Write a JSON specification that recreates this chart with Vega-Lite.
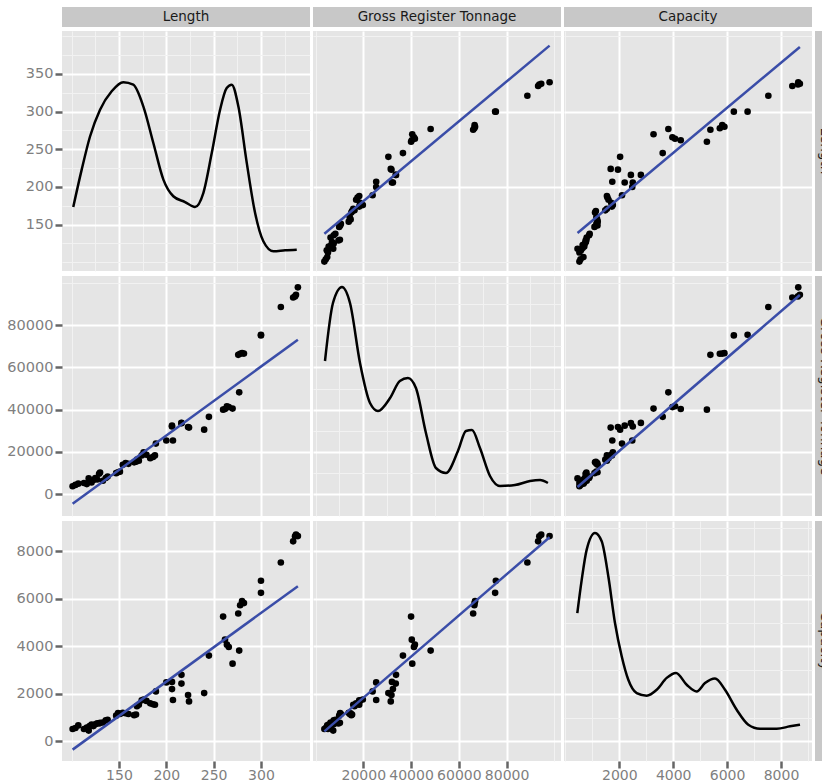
{
  "$schema": "https://vega.github.io/schema/vega-lite/v6.json",
  "background": "white",
  "padding": {"left": 6, "top": 7, "right": 0, "bottom": 0},
  "columns": 1,
  "spacing": 1,
  "bounds": "full",
  "align": {"row": "none", "column": "each"},
  "config": {
    "view": {"fill": "#E5E5E5", "stroke": null},
    "axis": {"domain": false, "grid": true, "labelColor": "#7F7F7F", "labelFont": "DejaVu Sans", "labelFontSize": 14.5, "tickColor": "#666666", "tickSize": 7, "tickWidth": 2.5, "labelPadding": 2, "labelOverlap": false, "labelFlush": false, "labelBound": false},
    "axisBottom": {"labelBaseline": "alphabetic", "labelPadding": 11, "labelFontSize": 14},
    "text": {"font": "DejaVu Sans", "fontSize": 13.5, "color": "#1A1A1A"}
  },
  "datasets": {
    "ships": [
      {"L":101,"G":3700,"C":520},{"L":104,"G":4300,"C":560},{"L":107,"G":4900,"C":670},{"L":113,"G":5200,"C":520},{"L":116,"G":4700,"C":580},{"L":118,"G":7400,"C":450},{"L":119,"G":6000,"C":640},{"L":121,"G":5500,"C":700},{"L":123,"G":6600,"C":640},{"L":125,"G":7600,"C":720},{"L":127,"G":6900,"C":760},{"L":129,"G":9600,"C":750},{"L":130,"G":10200,"C":780},{"L":133,"G":6300,"C":790},{"L":136,"G":7600,"C":880},{"L":138,"G":8300,"C":900},{"L":147,"G":9900,"C":1080},{"L":149,"G":10300,"C":1190},{"L":151,"G":10600,"C":1150},{"L":154,"G":13900,"C":1200},{"L":157,"G":14700,"C":1180},{"L":160,"G":14300,"C":1150},{"L":166,"G":15000,"C":1100},{"L":168,"G":15300,"C":1130},{"L":169,"G":16300,"C":1480},{"L":171,"G":15800,"C":1540},{"L":174,"G":18300,"C":1725},{"L":176,"G":19800,"C":1760},{"L":179,"G":18600,"C":1700},{"L":183,"G":17000,"C":1600},{"L":186,"G":17600,"C":1560},{"L":188,"G":18300,"C":1540},{"L":189,"G":23900,"C":2100},{"L":200,"G":25400,"C":2480},{"L":206,"G":32400,"C":2200},{"L":206,"G":32000,"C":2500},{"L":207,"G":25400,"C":1740},{"L":216,"G":33700,"C":2800},{"L":216,"G":33600,"C":2430},{"L":223,"G":31800,"C":1950},{"L":224,"G":31500,"C":1680},{"L":240,"G":30500,"C":2030},{"L":245,"G":36600,"C":3610},{"L":260,"G":40000,"C":5250},{"L":262,"G":40300,"C":4280},{"L":264,"G":41600,"C":4070},{"L":266,"G":41200,"C":3970},{"L":270,"G":40500,"C":3270},{"L":277,"G":48200,"C":3820},{"L":276,"G":66000,"C":5380},{"L":278,"G":66500,"C":5730},{"L":280,"G":66800,"C":5900},{"L":282,"G":66600,"C":5820},{"L":300,"G":75500,"C":6760},{"L":300,"G":75200,"C":6250},{"L":321,"G":88700,"C":7530},{"L":334,"G":93200,"C":8420},{"L":336,"G":93700,"C":8630},{"L":337,"G":94500,"C":8700},{"L":339,"G":98000,"C":8640}
    ],
    "fits": [
      {"p":"GL","x":3700,"y":138},{"p":"GL","x":98000,"y":387.6},
      {"p":"CL","x":450,"y":139},{"p":"CL","x":8700,"y":385.8},
      {"p":"LG","x":101,"y":-4600},{"p":"LG","x":339,"y":73170},
      {"p":"CG","x":450,"y":3320},{"p":"CG","x":8700,"y":94370},
      {"p":"LC","x":101,"y":-350},{"p":"LC","x":339,"y":6530},
      {"p":"GC","x":3700,"y":420},{"p":"GC","x":98000,"y":8590}
    ],
    "dens": [
      {"v":"L","x":101.7,"y":173.5},{"v":"L","x":110.6,"y":223},{"v":"L","x":119.4,"y":267},{"v":"L","x":130,"y":302.6},{"v":"L","x":142.3,"y":327},{"v":"L","x":154.6,"y":339},{"v":"L","x":165.1,"y":335.8},{"v":"L","x":175.7,"y":307},{"v":"L","x":186.3,"y":258.4},{"v":"L","x":196.9,"y":209.8},{"v":"L","x":207.4,"y":187.7},{"v":"L","x":219.8,"y":180},{"v":"L","x":230.3,"y":173.5},{"v":"L","x":239.1,"y":192},{"v":"L","x":248,"y":245},{"v":"L","x":256.8,"y":302.6},{"v":"L","x":263.8,"y":331.4},{"v":"L","x":269.1,"y":335.8},{"v":"L","x":276.1,"y":307},{"v":"L","x":285,"y":232},{"v":"L","x":293.8,"y":165.5},{"v":"L","x":302.5,"y":128},{"v":"L","x":313.1,"y":114.7},{"v":"L","x":325.5,"y":116},{"v":"L","x":337.8,"y":116.8},
      {"v":"G","x":3960,"y":63070},{"v":"G","x":7300,"y":90570},{"v":"G","x":11080,"y":98160},{"v":"G","x":14430,"y":90570},{"v":"G","x":18620,"y":62120},{"v":"G","x":22810,"y":43150},{"v":"G","x":26160,"y":39360},{"v":"G","x":31200,"y":45520},{"v":"G","x":35300,"y":53590},{"v":"G","x":38690,"y":55000},{"v":"G","x":42040,"y":50260},{"v":"G","x":46230,"y":28930},{"v":"G","x":50420,"y":12330},{"v":"G","x":54600,"y":9960},{"v":"G","x":59630,"y":20390},{"v":"G","x":62980,"y":29870},{"v":"G","x":65500,"y":30350},{"v":"G","x":68850,"y":21810},{"v":"G","x":73040,"y":8540},{"v":"G","x":77230,"y":3790},{"v":"G","x":83510,"y":4270},{"v":"G","x":89800,"y":6160},{"v":"G","x":94000,"y":6640},{"v":"G","x":97300,"y":5200},
      {"v":"C","x":442,"y":5400},{"v":"C","x":605,"y":6800},{"v":"C","x":790,"y":8070},{"v":"C","x":1098,"y":8770},{"v":"C","x":1347,"y":8420},{"v":"C","x":1592,"y":6950},{"v":"C","x":1840,"y":4980},{"v":"C","x":2089,"y":3580},{"v":"C","x":2334,"y":2590},{"v":"C","x":2646,"y":2030},{"v":"C","x":3017,"y":1920},{"v":"C","x":3388,"y":2170},{"v":"C","x":3759,"y":2670},{"v":"C","x":4104,"y":2880},{"v":"C","x":4501,"y":2380},{"v":"C","x":4872,"y":2100},{"v":"C","x":5180,"y":2450},{"v":"C","x":5551,"y":2640},{"v":"C","x":5922,"y":2170},{"v":"C","x":6356,"y":1330},{"v":"C","x":6787,"y":700},{"v":"C","x":7221,"y":530},{"v":"C","x":7840,"y":530},{"v":"C","x":8334,"y":630},{"v":"C","x":8705,"y":700}
    ],
    "labels": [{"t":"Length"},{"t":"Gross Register Tonnage"},{"t":"Capacity"}]
  },
  "concat": [
    {"hconcat": [
      {"width":248,"height":20,"view":{"fill":"#C8C8C8","stroke":null},"data":{"name":"labels"},"transform":[{"filter":"datum.t === 'Length'"}],"mark":{"type":"text"},"encoding":{"text":{"field":"t"}}},
      {"width":248,"height":20,"view":{"fill":"#C8C8C8","stroke":null},"data":{"name":"labels"},"transform":[{"filter":"datum.t === 'Gross Register Tonnage'"}],"mark":{"type":"text"},"encoding":{"text":{"field":"t"}}},
      {"width":248,"height":20,"view":{"fill":"#C8C8C8","stroke":null},"data":{"name":"labels"},"transform":[{"filter":"datum.t === 'Capacity'"}],"mark":{"type":"text"},"encoding":{"text":{"field":"t"}}}
    ], "spacing": 3, "bounds": "flush"},
    {"columns": 4, "spacing": {"row": 5, "column": 3}, "bounds": "flush", "align": "each",
     "concat": [
    {"width":248,"height":240,
     "data":{"name":"dens"},"transform":[{"filter":"datum.v === 'L'"}],
     "mark":{"type":"line","color":"black","strokeWidth":2.5,"interpolate":"monotone"},
     "encoding":{
       "x":{"field":"x","type":"quantitative","scale":{"domain":[89.8,351.8],"nice":false,"zero":false},"axis":{"title":null,"labels":false,"ticks":false,"values":[100,125,150,175,200,225,250,275,300,325],"gridColor":{"condition":{"test":"indexof([150,200,250,300], datum.value) >= 0","value":"#FFFFFF"},"value":"#F2F2F2"},"gridWidth":{"condition":{"test":"indexof([150,200,250,300], datum.value) >= 0","value":2},"value":1}}},
       "y":{"field":"y","type":"quantitative","scale":{"domain":[88.5,407],"nice":false,"zero":false},"axis":{"title":null,"orient":"left","format":"d","values":[100,125,150,175,200,225,250,275,300,325,350,375,400],"labelExpr":"indexof([150,200,250,300,350], datum.value) >= 0 ? datum.label : ''","tickOpacity":{"condition":{"test":"indexof([150,200,250,300,350], datum.value) >= 0","value":1},"value":0},"gridColor":{"condition":{"test":"indexof([150,200,250,300,350], datum.value) >= 0","value":"#FFFFFF"},"value":"#F2F2F2"},"gridWidth":{"condition":{"test":"indexof([150,200,250,300,350], datum.value) >= 0","value":2},"value":1}}}
     }},

    {"width":248,"height":240,"layer":[
      {"data":{"name":"ships"},"mark":{"type":"circle","size":44,"color":"black","opacity":1},
       "encoding":{
         "x":{"field":"G","type":"quantitative","scale":{"domain":[-1060,102780],"nice":false,"zero":false},"axis":{"title":null,"labels":false,"ticks":false,"values":[0,10000,20000,30000,40000,50000,60000,70000,80000,90000,100000],"gridColor":{"condition":{"test":"indexof([20000,40000,60000,80000], datum.value) >= 0","value":"#FFFFFF"},"value":"#F2F2F2"},"gridWidth":{"condition":{"test":"indexof([20000,40000,60000,80000], datum.value) >= 0","value":2},"value":1}}},
         "y":{"field":"L","type":"quantitative","scale":{"domain":[88.5,407],"nice":false,"zero":false},"axis":{"title":null,"labels":false,"ticks":false,"values":[100,125,150,175,200,225,250,275,300,325,350,375,400],"gridColor":{"condition":{"test":"indexof([150,200,250,300,350], datum.value) >= 0","value":"#FFFFFF"},"value":"#F2F2F2"},"gridWidth":{"condition":{"test":"indexof([150,200,250,300,350], datum.value) >= 0","value":2},"value":1}}}
       }},
      {"data":{"name":"fits"},"transform":[{"filter":"datum.p === 'GL'"}],"mark":{"type":"line","color":"#3A4DA8","strokeWidth":2.5},
       "encoding":{"x":{"field":"x","type":"quantitative"},"y":{"field":"y","type":"quantitative"}}}
    ]},

    {"width":248,"height":240,"layer":[
      {"data":{"name":"ships"},"mark":{"type":"circle","size":44,"color":"black","opacity":1},
       "encoding":{
         "x":{"field":"C","type":"quantitative","scale":{"domain":[-52,9150],"nice":false,"zero":false},"axis":{"title":null,"labels":false,"ticks":false,"values":[0,1000,2000,3000,4000,5000,6000,7000,8000,9000],"gridColor":{"condition":{"test":"indexof([2000,4000,6000,8000], datum.value) >= 0","value":"#FFFFFF"},"value":"#F2F2F2"},"gridWidth":{"condition":{"test":"indexof([2000,4000,6000,8000], datum.value) >= 0","value":2},"value":1}}},
         "y":{"field":"L","type":"quantitative","scale":{"domain":[88.5,407],"nice":false,"zero":false},"axis":{"title":null,"labels":false,"ticks":false,"values":[100,125,150,175,200,225,250,275,300,325,350,375,400],"gridColor":{"condition":{"test":"indexof([150,200,250,300,350], datum.value) >= 0","value":"#FFFFFF"},"value":"#F2F2F2"},"gridWidth":{"condition":{"test":"indexof([150,200,250,300,350], datum.value) >= 0","value":2},"value":1}}}
       }},
      {"data":{"name":"fits"},"transform":[{"filter":"datum.p === 'CL'"}],"mark":{"type":"line","color":"#3A4DA8","strokeWidth":2.5},
       "encoding":{"x":{"field":"x","type":"quantitative"},"y":{"field":"y","type":"quantitative"}}}
    ]},

    {"width":20,"height":240,"view":{"fill":"#C8C8C8","stroke":null},"data":{"name":"labels"},"transform":[{"filter":"datum.t === 'Length'"}],"mark":{"type":"text","angle":90},"encoding":{"text":{"field":"t"}}},

    {"width":248,"height":240,"layer":[
      {"data":{"name":"ships"},"mark":{"type":"circle","size":44,"color":"black","opacity":1},
       "encoding":{
         "x":{"field":"L","type":"quantitative","scale":{"domain":[89.8,351.8],"nice":false,"zero":false},"axis":{"title":null,"labels":false,"ticks":false,"values":[100,125,150,175,200,225,250,275,300,325],"gridColor":{"condition":{"test":"indexof([150,200,250,300], datum.value) >= 0","value":"#FFFFFF"},"value":"#F2F2F2"},"gridWidth":{"condition":{"test":"indexof([150,200,250,300], datum.value) >= 0","value":2},"value":1}}},
         "y":{"field":"G","type":"quantitative","scale":{"domain":[-10430,103380],"nice":false,"zero":false},"axis":{"title":null,"orient":"left","format":"d","values":[0,10000,20000,30000,40000,50000,60000,70000,80000,90000,100000],"labelExpr":"datum.value % 20000 === 0 && datum.value <= 80000 ? datum.label : ''","tickOpacity":{"condition":{"test":"datum.value % 20000 === 0 && datum.value <= 80000","value":1},"value":0},"gridColor":{"condition":{"test":"datum.value % 20000 === 0 && datum.value <= 80000","value":"#FFFFFF"},"value":"#F2F2F2"},"gridWidth":{"condition":{"test":"datum.value % 20000 === 0 && datum.value <= 80000","value":2},"value":1}}}
       }},
      {"data":{"name":"fits"},"transform":[{"filter":"datum.p === 'LG'"}],"mark":{"type":"line","color":"#3A4DA8","strokeWidth":2.5},
       "encoding":{"x":{"field":"x","type":"quantitative"},"y":{"field":"y","type":"quantitative"}}}
    ]},

    {"width":248,"height":240,
     "data":{"name":"dens"},"transform":[{"filter":"datum.v === 'G'"}],
     "mark":{"type":"line","color":"black","strokeWidth":2.5,"interpolate":"monotone"},
     "encoding":{
       "x":{"field":"x","type":"quantitative","scale":{"domain":[-1060,102780],"nice":false,"zero":false},"axis":{"title":null,"labels":false,"ticks":false,"values":[0,10000,20000,30000,40000,50000,60000,70000,80000,90000,100000],"gridColor":{"condition":{"test":"indexof([20000,40000,60000,80000], datum.value) >= 0","value":"#FFFFFF"},"value":"#F2F2F2"},"gridWidth":{"condition":{"test":"indexof([20000,40000,60000,80000], datum.value) >= 0","value":2},"value":1}}},
       "y":{"field":"y","type":"quantitative","scale":{"domain":[-10430,103380],"nice":false,"zero":false},"axis":{"title":null,"labels":false,"ticks":false,"values":[0,10000,20000,30000,40000,50000,60000,70000,80000,90000,100000],"gridColor":{"condition":{"test":"datum.value % 20000 === 0 && datum.value <= 80000","value":"#FFFFFF"},"value":"#F2F2F2"},"gridWidth":{"condition":{"test":"datum.value % 20000 === 0 && datum.value <= 80000","value":2},"value":1}}}
     }},

    {"width":248,"height":240,"layer":[
      {"data":{"name":"ships"},"mark":{"type":"circle","size":44,"color":"black","opacity":1},
       "encoding":{
         "x":{"field":"C","type":"quantitative","scale":{"domain":[-52,9150],"nice":false,"zero":false},"axis":{"title":null,"labels":false,"ticks":false,"values":[0,1000,2000,3000,4000,5000,6000,7000,8000,9000],"gridColor":{"condition":{"test":"indexof([2000,4000,6000,8000], datum.value) >= 0","value":"#FFFFFF"},"value":"#F2F2F2"},"gridWidth":{"condition":{"test":"indexof([2000,4000,6000,8000], datum.value) >= 0","value":2},"value":1}}},
         "y":{"field":"G","type":"quantitative","scale":{"domain":[-10430,103380],"nice":false,"zero":false},"axis":{"title":null,"labels":false,"ticks":false,"values":[0,10000,20000,30000,40000,50000,60000,70000,80000,90000,100000],"gridColor":{"condition":{"test":"datum.value % 20000 === 0 && datum.value <= 80000","value":"#FFFFFF"},"value":"#F2F2F2"},"gridWidth":{"condition":{"test":"datum.value % 20000 === 0 && datum.value <= 80000","value":2},"value":1}}}
       }},
      {"data":{"name":"fits"},"transform":[{"filter":"datum.p === 'CG'"}],"mark":{"type":"line","color":"#3A4DA8","strokeWidth":2.5},
       "encoding":{"x":{"field":"x","type":"quantitative"},"y":{"field":"y","type":"quantitative"}}}
    ]},

    {"width":20,"height":240,"view":{"fill":"#C8C8C8","stroke":null},"data":{"name":"labels"},"transform":[{"filter":"datum.t === 'Gross Register Tonnage'"}],"mark":{"type":"text","angle":90},"encoding":{"text":{"field":"t"}}},

    {"width":248,"height":240,"layer":[
      {"data":{"name":"ships"},"mark":{"type":"circle","size":44,"color":"black","opacity":1},
       "encoding":{
         "x":{"field":"L","type":"quantitative","scale":{"domain":[89.8,351.8],"nice":false,"zero":false},"axis":{"title":null,"format":"d","values":[100,125,150,175,200,225,250,275,300,325],"labelExpr":"indexof([150,200,250,300], datum.value) >= 0 ? datum.label : ''","tickOpacity":{"condition":{"test":"indexof([150,200,250,300], datum.value) >= 0","value":1},"value":0},"gridColor":{"condition":{"test":"indexof([150,200,250,300], datum.value) >= 0","value":"#FFFFFF"},"value":"#F2F2F2"},"gridWidth":{"condition":{"test":"indexof([150,200,250,300], datum.value) >= 0","value":2},"value":1}}},
         "y":{"field":"C","type":"quantitative","scale":{"domain":[-829,9276],"nice":false,"zero":false},"axis":{"title":null,"orient":"left","format":"d","values":[0,1000,2000,3000,4000,5000,6000,7000,8000,9000],"labelExpr":"indexof([0,2000,4000,6000,8000], datum.value) >= 0 ? datum.label : ''","tickOpacity":{"condition":{"test":"indexof([0,2000,4000,6000,8000], datum.value) >= 0","value":1},"value":0},"gridColor":{"condition":{"test":"indexof([0,2000,4000,6000,8000], datum.value) >= 0","value":"#FFFFFF"},"value":"#F2F2F2"},"gridWidth":{"condition":{"test":"indexof([0,2000,4000,6000,8000], datum.value) >= 0","value":2},"value":1}}}
       }},
      {"data":{"name":"fits"},"transform":[{"filter":"datum.p === 'LC'"}],"mark":{"type":"line","color":"#3A4DA8","strokeWidth":2.5},
       "encoding":{"x":{"field":"x","type":"quantitative"},"y":{"field":"y","type":"quantitative"}}}
    ]},

    {"width":248,"height":240,"layer":[
      {"data":{"name":"ships"},"mark":{"type":"circle","size":44,"color":"black","opacity":1},
       "encoding":{
         "x":{"field":"G","type":"quantitative","scale":{"domain":[-1060,102780],"nice":false,"zero":false},"axis":{"title":null,"format":"d","values":[0,10000,20000,30000,40000,50000,60000,70000,80000,90000,100000],"labelExpr":"indexof([20000,40000,60000,80000], datum.value) >= 0 ? datum.label : ''","tickOpacity":{"condition":{"test":"indexof([20000,40000,60000,80000], datum.value) >= 0","value":1},"value":0},"gridColor":{"condition":{"test":"indexof([20000,40000,60000,80000], datum.value) >= 0","value":"#FFFFFF"},"value":"#F2F2F2"},"gridWidth":{"condition":{"test":"indexof([20000,40000,60000,80000], datum.value) >= 0","value":2},"value":1}}},
         "y":{"field":"C","type":"quantitative","scale":{"domain":[-829,9276],"nice":false,"zero":false},"axis":{"title":null,"labels":false,"ticks":false,"values":[0,1000,2000,3000,4000,5000,6000,7000,8000,9000],"gridColor":{"condition":{"test":"indexof([0,2000,4000,6000,8000], datum.value) >= 0","value":"#FFFFFF"},"value":"#F2F2F2"},"gridWidth":{"condition":{"test":"indexof([0,2000,4000,6000,8000], datum.value) >= 0","value":2},"value":1}}}
       }},
      {"data":{"name":"fits"},"transform":[{"filter":"datum.p === 'GC'"}],"mark":{"type":"line","color":"#3A4DA8","strokeWidth":2.5},
       "encoding":{"x":{"field":"x","type":"quantitative"},"y":{"field":"y","type":"quantitative"}}}
    ]},

    {"width":248,"height":240,
     "data":{"name":"dens"},"transform":[{"filter":"datum.v === 'C'"}],
     "mark":{"type":"line","color":"black","strokeWidth":2.5,"interpolate":"monotone"},
     "encoding":{
       "x":{"field":"x","type":"quantitative","scale":{"domain":[-52,9150],"nice":false,"zero":false},"axis":{"title":null,"format":"d","values":[0,1000,2000,3000,4000,5000,6000,7000,8000,9000],"labelExpr":"indexof([2000,4000,6000,8000], datum.value) >= 0 ? datum.label : ''","tickOpacity":{"condition":{"test":"indexof([2000,4000,6000,8000], datum.value) >= 0","value":1},"value":0},"gridColor":{"condition":{"test":"indexof([2000,4000,6000,8000], datum.value) >= 0","value":"#FFFFFF"},"value":"#F2F2F2"},"gridWidth":{"condition":{"test":"indexof([2000,4000,6000,8000], datum.value) >= 0","value":2},"value":1}}},
       "y":{"field":"y","type":"quantitative","scale":{"domain":[-829,9276],"nice":false,"zero":false},"axis":{"title":null,"labels":false,"ticks":false,"values":[0,1000,2000,3000,4000,5000,6000,7000,8000,9000],"gridColor":{"condition":{"test":"indexof([0,2000,4000,6000,8000], datum.value) >= 0","value":"#FFFFFF"},"value":"#F2F2F2"},"gridWidth":{"condition":{"test":"indexof([0,2000,4000,6000,8000], datum.value) >= 0","value":2},"value":1}}}
     }},

    {"width":20,"height":240,"view":{"fill":"#C8C8C8","stroke":null},"data":{"name":"labels"},"transform":[{"filter":"datum.t === 'Capacity'"}],"mark":{"type":"text","angle":90},"encoding":{"text":{"field":"t"}}}
     ]}
  ]
}
